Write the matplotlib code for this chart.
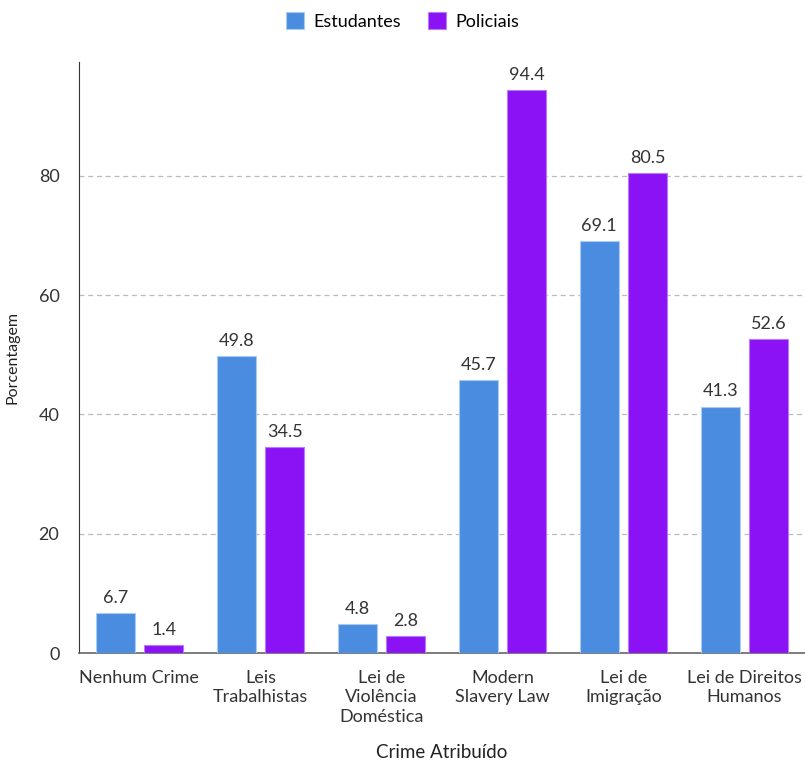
import matplotlib.pyplot as plt
import numpy as np

plt.rcParams['font.family'] = ['Lato', 'DejaVu Sans']

categories = ['Nenhum Crime', 'Leis\nTrabalhistas', 'Lei de\nViolência\nDoméstica',
              'Modern\nSlavery Law', 'Lei de\nImigração', 'Lei de Direitos\nHumanos']
estudantes = [6.7, 49.8, 4.8, 45.7, 69.1, 41.3]
policiais = [1.4, 34.5, 2.8, 94.4, 80.5, 52.6]
series_names = ['Estudantes', 'Policiais']
colors = ['#4A8DE0', '#8A12F5']

fig = plt.figure(figsize=(8.05, 7.62), dpi=100)
ax = fig.add_axes([0.098, 0.143, 0.902, 0.776])

x = np.arange(len(categories))
w = 0.32
b1 = ax.bar(x - 0.2, estudantes, w, color=colors[0], edgecolor='#A9CBF2', linewidth=0.8, label=series_names[0], zorder=3)
b2 = ax.bar(x + 0.2, policiais, w, color=colors[1], edgecolor='#B97AF9', linewidth=0.8, label=series_names[1], zorder=3)

for bars in (b1, b2):
    for r in bars:
        ax.text(r.get_x() + r.get_width() / 2, r.get_height() + 1.2, f'{r.get_height():.1f}',
                ha='center', va='bottom', fontsize=13, color='#333333')

ax.set_xlim(-0.5, 5.5)
ax.set_ylim(0, 99.1)
ax.set_yticks([0, 20, 40, 60, 80])
ax.set_xticks(x)
ax.set_xticklabels(categories, fontsize=13, color='#333333', linespacing=1.28)
ax.tick_params(axis='y', labelsize=13, labelcolor='#333333', length=0, pad=14)
ax.tick_params(axis='x', length=0, pad=12)
ax.yaxis.grid(True, linestyle=(0, (4, 3)), color='#BBBBBB', linewidth=0.9, zorder=0)
for s in ['top', 'right']:
    ax.spines[s].set_visible(False)
ax.spines['left'].set_color('#333333')
ax.spines['bottom'].set_color('#666666')
ax.spines['bottom'].set_linewidth(1.2)

ax.set_ylabel('Porcentagem', fontsize=11.5, color='#222222', labelpad=14)
ax.set_xlabel('Crime Atribuído', fontsize=13.5, color='#222222', labelpad=14)

fig.legend(handles=[b1, b2], labels=series_names, loc='upper center', bbox_to_anchor=(0.5, 1.005),
           ncol=2, frameon=False, fontsize=13, handlelength=1.0, handleheight=1.0,
           columnspacing=1.5, handletextpad=0.5)

fig.savefig('out.png', dpi=100)
